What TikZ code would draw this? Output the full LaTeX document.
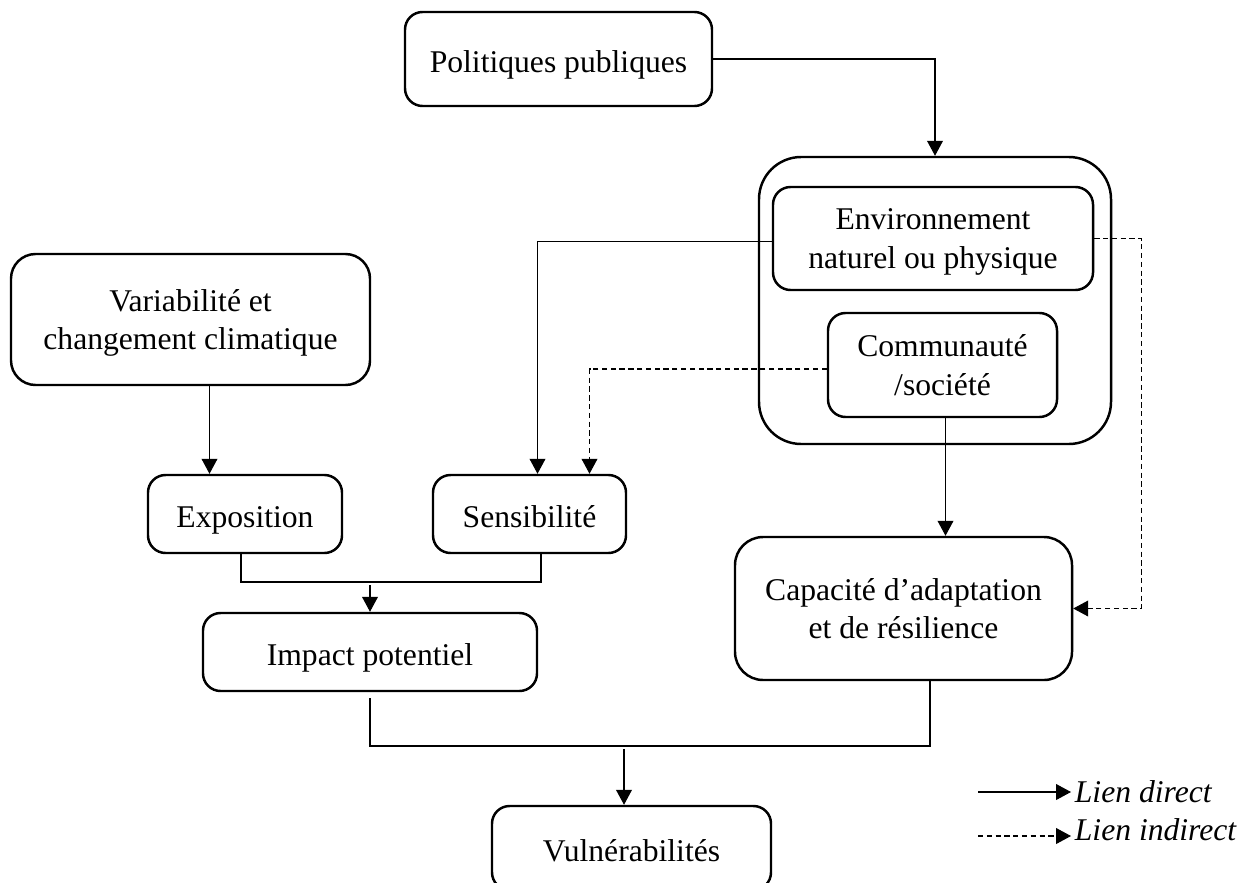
\documentclass[tikz,border=0pt]{standalone}
\usepackage{fontspec}
\setmainfont{Liberation Serif}
\usetikzlibrary{calc,arrows.meta,positioning}

\begin{document}
\begin{tikzpicture}[x=0.02cm, y=-0.02cm, >={Triangle[length=8.5pt,width=9pt]},
		every node/.style={font=\fontsize{18}{22}\selectfont},
		boite/.style={draw, line width=1.4pt, rounded corners=10pt, align=center, inner sep=0pt,
			text depth=0pt, execute at begin node=\strut},
		taille/.style 2 args={minimum width=#1*0.02cm, minimum height=#2*0.02cm},
		lien/.style={line width=0.6pt},
		lienind/.style={line width=0.6pt, dash pattern=on 3pt off 2pt}]
	% Cadre van de pagina (1239 x 882)
	\useasboundingbox (0,0) rectangle (1239,882);

	% --- Boites ---
	\node[boite, taille={307}{94}] (pol) at (558.5,59) {Politiques publiques};

	% systeme : environnement + communaute
	\node[boite, taille={352}{287}, rounded corners=24pt] (cadre) at (935,300.5) {};
	\node[boite, taille={320}{103}] (env) at (933,238.5) {Environnement\\naturel ou physique};
	\node[boite, taille={229}{104}] (comm) at (942.5,365) {Communauté\\/société};

	\node[boite, taille={359}{131}, rounded corners=14pt] (var) at (190.5,319.5) {Variabilité et\\changement climatique};
	\node[boite, taille={194}{78}] (expo) at (245,514) {Exposition};
	\node[boite, taille={193}{78}] (sens) at (529.5,514) {Sensibilité};
	\node[boite, taille={334}{78}] (impact) at (370,652) {Impact potentiel};
	\node[boite, taille={337}{143}, rounded corners=16pt] (capa) at (903.5,608.5) {Capacité d’adaptation\\et de résilience};
	\node[boite, taille={279}{84}] (vuln) at (631.5,848) {Vulnérabilités};

	% --- Liens ---
	\draw[lien,->] (pol.east) -| (cadre.north);
	\draw[lien,->] ($(env.west)+(0,3)$) -| ($(sens.north)+(8,0)$);
	\draw[lienind,->] ($(comm.west)+(0,4)$) -| ($(sens.north)+(60,0)$);
	\draw[lienind,->] (env.east) -- ++(47,0) |- (capa.east);
	\draw[lien,->] ($(comm.south)+(3,0)$) coordinate (c) -- (c |- capa.north);
	\draw[lien,->] ($(var.south)+(19,0)$) coordinate (v) -- (v |- expo.north);

	% exposition + sensibilite -> impact
	\coordinate (je) at (241,582);
	\coordinate (js) at (541,582);
	\draw[lien] (je |- expo.south) -- (je) -- (js) -- (js |- sens.south);
	\draw[lien,->] ($(impact.north |- je)+(0,3)$) -- (impact.north);

	% impact + capacite -> vulnerabilites
	\coordinate (ji) at (370,746);
	\coordinate (jc) at (930,746);
	\coordinate (jv) at (624,749);
	\draw[lien] ($(impact.south)+(0,6)$) -- (ji) -- (jc) -- (jc |- capa.south);
	\draw[lien,->] (jv) -- (jv |- vuln.north);

	% --- Legende ---
	\node[anchor=west, inner sep=2pt] (ld) at (1071,792) {\textit{Lien direct}};
	\node[anchor=west, inner sep=2pt] (li) at (1071,830) {\textit{Lien indirect}};
	\coordinate (d0) at (978,792);
	\coordinate (i0) at (978,836);
	\draw[lien,->] (d0) -- (ld.west);
	\draw[lienind,->] (i0) -- (i0 -| li.west);
\end{tikzpicture}
\end{document}
